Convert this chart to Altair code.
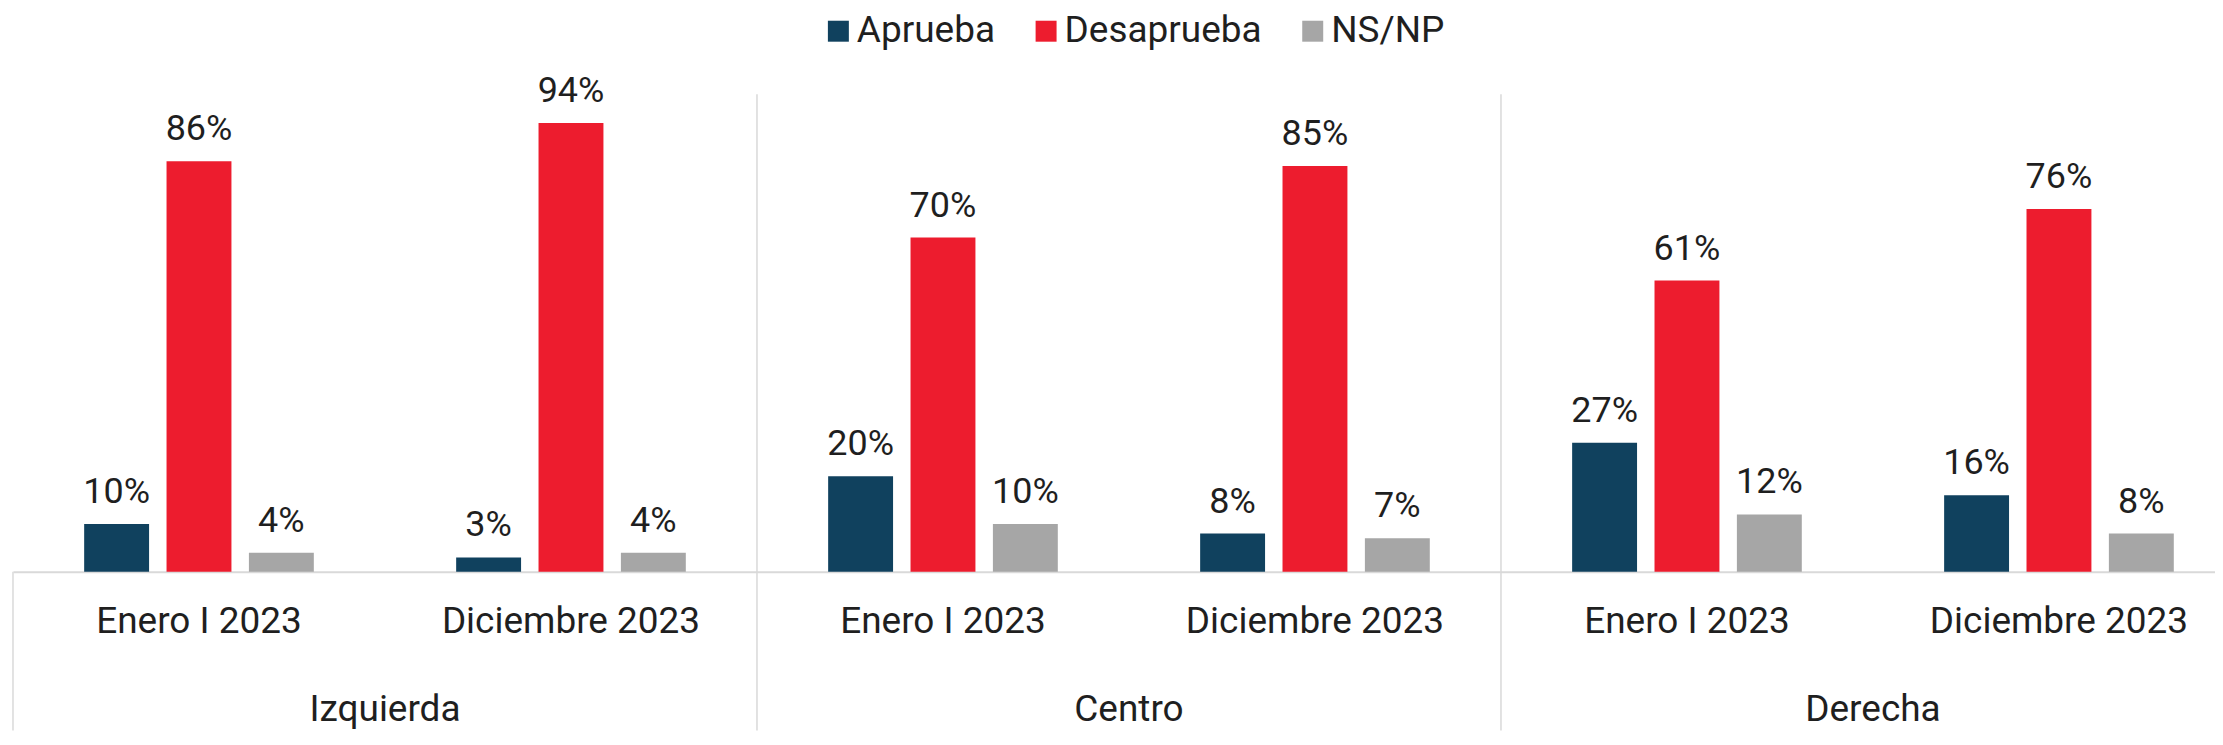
import altair as alt
import pandas as pd

groups = ["Izquierda", "Centro", "Derecha"]
periods = ["Enero I 2023", "Diciembre 2023"]
series = ["Aprueba", "Desaprueba", "NS/NP"]
colors = ["#10415e", "#ed1c2e", "#a6a6a6"]

# values per group, per period, per series (Aprueba, Desaprueba, NS/NP)
izquierda = [[10, 86, 4], [3, 94, 4]]
centro = [[20, 70, 10], [8, 85, 7]]
derecha = [[27, 61, 12], [16, 76, 8]]
values = {"Izquierda": izquierda, "Centro": centro, "Derecha": derecha}

slots = [f"{g}|{p}" for g in groups for p in periods]

rows = []
for g in groups:
    for pi, p in enumerate(periods):
        for si, s in enumerate(series):
            v = values[g][pi][si]
            rows.append({"slot": f"{g}|{p}", "serie": s, "valor": v, "etiqueta": f"{v}%"})
df = pd.DataFrame(rows)

sep_df = pd.DataFrame({"slot": [f"{g}|{periods[0]}" for g in groups[1:]]})
left_df = pd.DataFrame({"slot": [f"{groups[0]}|{periods[0]}"]})
grp_df = pd.DataFrame({"slot": [f"{g}|{periods[1]}" for g in groups], "grupo": groups})

PLOT_H = 478
BOTTOM = 159
FONT = "Roboto"
TXT = "#1f1f1f"
LINE = "#d9d9d9"

xscale = alt.Scale(domain=slots, range=[0, 2235], paddingInner=0, paddingOuter=0)
yscale = alt.Scale(domain=[0, 100])

xaxis = alt.Axis(
    title=None,
    labelExpr="split(datum.label, '|')[1]",
    labelAngle=0,
    labelAlign="center",
    labelFontSize=37,
    labelFont=FONT,
    labelColor=TXT,
    labelBaseline="alphabetic",
    labelPadding=61,
    labelLimit=1000,
    labelOverlap=False,
    labelFlush=False,
    ticks=False,
    tickSize=0,
    domainColor=LINE,
    domainWidth=2,
    grid=False,
)

xoff = alt.XOffset("serie:N", sort=series,
                   scale=alt.Scale(paddingInner=0.212, paddingOuter=0.864))

base = alt.Chart(df)

bars = base.mark_bar().encode(
    x=alt.X("slot:N", sort=slots, scale=xscale, axis=xaxis),
    xOffset=xoff,
    y=alt.Y("valor:Q", scale=yscale, axis=None),
    color=alt.Color(
        "serie:N",
        sort=series,
        scale=alt.Scale(domain=series, range=colors),
        legend=alt.Legend(
            title=None,
            orient="none",
            direction="horizontal",
            legendX=808,
            legendY=-82,
            symbolType="square",
            symbolSize=441,
            symbolStrokeWidth=0,
            labelFontSize=37,
            labelFont=FONT,
            labelColor=TXT,
            labelOffset=0,
            columnPadding=32,
            labelLimit=1000,
        ),
    ),
)

labels = base.mark_text(
    fontSize=36, font=FONT, color=TXT, baseline="alphabetic", align="center", dy=-21
).encode(
    x=alt.X("slot:N", sort=slots, scale=xscale, axis=xaxis),
    xOffset=xoff,
    y=alt.Y("valor:Q", scale=yscale, axis=None),
    text="etiqueta:N",
)

seps = alt.Chart(sep_df).mark_rule(color=LINE, strokeWidth=1.5).encode(
    x=alt.X("slot:N", sort=slots, scale=xscale, axis=xaxis, bandPosition=0),
    y=alt.value(0),
    y2=alt.value(PLOT_H + BOTTOM),
)

left = alt.Chart(left_df).mark_rule(color=LINE, strokeWidth=1.5).encode(
    x=alt.X("slot:N", sort=slots, scale=xscale, axis=xaxis, bandPosition=0),
    y=alt.value(PLOT_H),
    y2=alt.value(PLOT_H + BOTTOM),
)

grp = alt.Chart(grp_df).mark_text(
    fontSize=37, font=FONT, color=TXT, baseline="alphabetic", align="center"
).encode(
    x=alt.X("slot:N", sort=slots, scale=xscale, axis=xaxis, bandPosition=0),
    y=alt.value(PLOT_H + 149),
    text="grupo:N",
)

chart = alt.layer(seps, left, bars, labels, grp).properties(
    width=2205,
    height=PLOT_H,
    autosize=alt.AutoSizeParams(type="none"),
    padding={"left": 5, "top": 86, "right": 0, "bottom": BOTTOM},
).configure(font=FONT).configure_view(stroke=None)

chart.save("out.html", embed_options={"renderer": "svg", "actions": False})
